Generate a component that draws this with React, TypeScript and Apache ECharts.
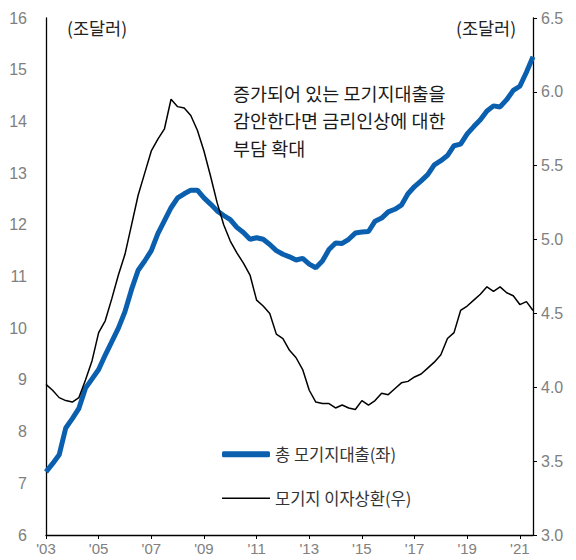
import React, { useEffect, useRef } from "react";
import * as echarts from "echarts";

const startYear = 2003;
const quarterStep = 0.25;

const mortgageDebt = [
  7.22, 7.38, 7.55, 8.07, 8.25, 8.45, 8.84, 9.02, 9.2, 9.48,
  9.74, 10.0, 10.32, 10.75, 11.12, 11.3, 11.5, 11.83, 12.08, 12.33,
  12.52, 12.6, 12.67, 12.67, 12.52, 12.4, 12.27, 12.18, 12.1, 11.95,
  11.85, 11.72, 11.75, 11.72, 11.62, 11.5, 11.43, 11.38, 11.32, 11.35,
  11.24, 11.17, 11.3, 11.52, 11.65, 11.64, 11.72, 11.84, 11.86, 11.87,
  12.07, 12.13, 12.25, 12.3, 12.38, 12.6, 12.74, 12.85, 12.97, 13.16,
  13.24, 13.34, 13.53, 13.56, 13.76, 13.9, 14.03, 14.2, 14.3, 14.28,
  14.42, 14.6, 14.68, 14.95, 15.25,
];

const interestPayment = [
  4.02, 3.98, 3.93, 3.91, 3.9, 3.93, 4.05, 4.18, 4.37, 4.45,
  4.6, 4.76, 4.9, 5.1, 5.3, 5.45, 5.6, 5.68, 5.75, 5.95,
  5.9, 5.89, 5.84, 5.74, 5.6, 5.43, 5.25, 5.1, 4.99, 4.91,
  4.84, 4.76, 4.59, 4.55, 4.5, 4.36, 4.33, 4.25, 4.2, 4.12,
  3.98, 3.9, 3.89, 3.89, 3.86, 3.88, 3.86, 3.85, 3.91, 3.88,
  3.91, 3.96, 3.95, 3.99, 4.03, 4.04, 4.07, 4.09, 4.13, 4.17,
  4.22, 4.33, 4.37, 4.52, 4.55, 4.59, 4.63, 4.68, 4.65, 4.68,
  4.64, 4.62, 4.56, 4.58, 4.52,
];

const xTickYears = [2003, 2005, 2007, 2009, 2011, 2013, 2015, 2017, 2019, 2021];

const seriesNames = ["총 모기지대출(좌)", "모기지 이자상환(우)"];
const unitLabel = "(조달러)";
const noteLines = ["증가되어 있는 모기지대출을", "감안한다면 금리인상에 대한", "부담 확대"];

const NUM_FONT = "'Liberation Sans', Arial, sans-serif";
const KR_FONT = "'Noto Sans CJK KR', 'Noto Sans', sans-serif";

const BLUE = "#0a5fae";

export default function App() {
  const ref = useRef<HTMLDivElement>(null);

  useEffect(() => {
    if (!ref.current) return;
    const chart = echarts.init(ref.current, undefined, { renderer: "svg" });

    const toPairs = (arr: number[]) =>
      arr.map((v, i) => [startYear + i * quarterStep, v]);

    const axisLabelStyle = {
      color: "#808080",
      fontSize: 16,
      fontFamily: NUM_FONT,
    };

    const legendText = { color: "#333", fontSize: 16.5, fontFamily: KR_FONT };

    chart.setOption({
      animation: false,
      backgroundColor: "#ffffff",
      grid: { left: 46, right: 43, top: 18, bottom: 25, containLabel: false },
      xAxis: {
        type: "value",
        min: 2003,
        max: 2021.5,
        interval: 2,
        splitLine: { show: false },
        axisLine: { show: true, lineStyle: { color: "#000", width: 1.3 } },
        axisTick: {
          show: true,
          length: 4,
          lineStyle: { color: "#000" },
          customValues: xTickYears,
        },
        axisLabel: {
          ...axisLabelStyle,
          fontSize: 15,
          margin: 6,
          customValues: xTickYears,
          formatter: (v: number) => "'" + String(Math.round(v) % 100).padStart(2, "0"),
        },
      },
      yAxis: [
        {
          type: "value",
          min: 6,
          max: 16,
          interval: 1,
          position: "left",
          splitLine: { show: false },
          axisLine: { show: true, lineStyle: { color: "#000", width: 1.3 } },
          axisTick: { show: false },
          axisLabel: { ...axisLabelStyle, margin: 19 },
        },
        {
          type: "value",
          min: 3,
          max: 6.5,
          interval: 0.5,
          position: "right",
          splitLine: { show: false },
          axisLine: { show: true, lineStyle: { color: "#000", width: 1.3 } },
          axisTick: { show: true, length: 4, lineStyle: { color: "#000" } },
          axisLabel: {
            ...axisLabelStyle,
            margin: 8,
            formatter: (v: number) => v.toFixed(1),
          },
        },
      ],
      legend: [
        {
          data: [{ name: seriesNames[0], icon: "roundRect" }],
          left: 217,
          top: 441,
          itemWidth: 48,
          itemHeight: 6,
          itemStyle: { color: BLUE },
          textStyle: legendText,
        },
        {
          data: [{ name: seriesNames[1], icon: "rect" }],
          left: 217,
          top: 485,
          itemWidth: 48,
          itemHeight: 1.6,
          itemStyle: { color: "#000" },
          textStyle: legendText,
        },
      ],
      graphic: [
        {
          type: "text",
          left: 67,
          top: 19,
          style: { text: unitLabel, fontSize: 17.5, fill: "#222", fontFamily: KR_FONT },
        },
        {
          type: "text",
          left: 456,
          top: 19,
          style: { text: unitLabel, fontSize: 17.5, fill: "#222", fontFamily: KR_FONT },
        },
        {
          type: "text",
          left: 233,
          top: 79,
          style: {
            text: noteLines.join("\n"),
            fontSize: 18.5,
            lineHeight: 27.5,
            fill: "#1a1a1a",
            fontFamily: KR_FONT,
          },
        },
      ],
      series: [
        {
          name: seriesNames[0],
          type: "line",
          yAxisIndex: 0,
          data: toPairs(mortgageDebt),
          showSymbol: false,
          symbol: "none",
          lineStyle: { color: BLUE, width: 5 },
          itemStyle: { color: BLUE },
          z: 3,
        },
        {
          name: seriesNames[1],
          type: "line",
          yAxisIndex: 1,
          data: toPairs(interestPayment),
          showSymbol: false,
          symbol: "none",
          lineStyle: { color: "#000", width: 1.5 },
          itemStyle: { color: "#000" },
          z: 4,
        },
      ],
    });

    return () => chart.dispose();
  }, []);

  return (
    <div
      ref={ref}
      style={{ position: "fixed", left: 0, top: 0, width: 576, height: 560, background: "#fff" }}
    />
  );
}
